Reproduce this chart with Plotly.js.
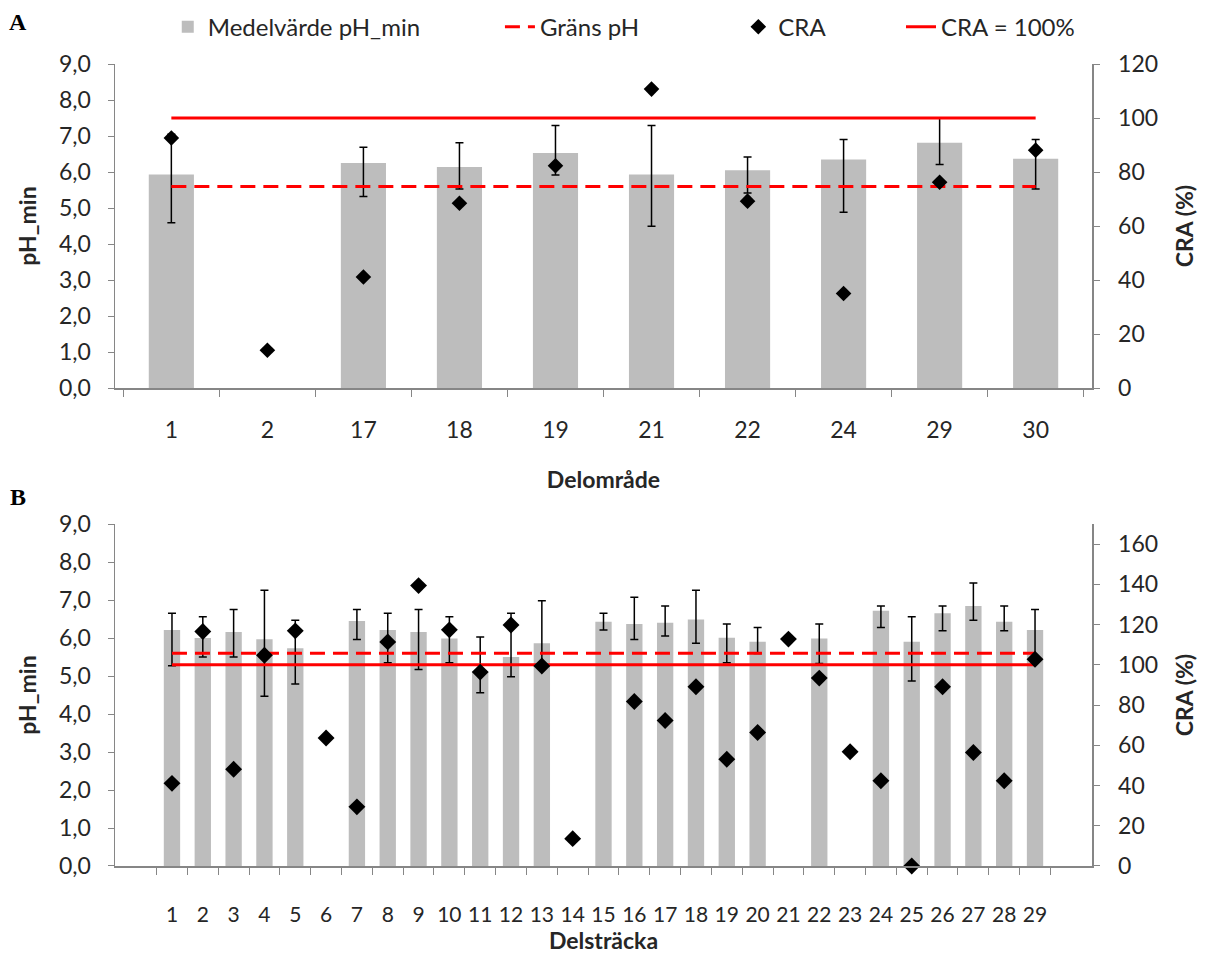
<!DOCTYPE html>
<html>
<head>
<meta charset="utf-8">
<script src="https://cdn.plot.ly/plotly-3.0.1.min.js"></script>
<style>
  html, body { margin: 0; padding: 0; background: #fff; }
  #chart { width: 1209px; height: 965px; }
</style>
</head>
<body>
<div id="chart"></div>
<script>
// ---- Panel A: per delområde ----
const topCats    = ['1', '2', '17', '18', '19', '21', '22', '24', '29', '30'];
const topPh      = [5.93, null, 6.25, 6.14, 6.53, 5.93, 6.05, 6.35, 6.81, 6.37];
const topPhHigh  = [7.05, null, 6.69, 6.81, 7.29, 7.29, 6.42, 6.90, 7.50, 6.90];
const topPhLow   = [4.59, null, 5.32, 5.53, 5.92, 4.49, 5.42, 4.88, 6.21, 5.53];
const topCra     = [92.6, 14.0, 41.1, 68.4, 82.3, 110.7, 69.2, 35.0, 76.2, 88.1];

// ---- Panel B: per delsträcka ----
const botCats    = ['1','2','3','4','5','6','7','8','9','10','11','12','13','14','15',
                    '16','17','18','19','20','21','22','23','24','25','26','27','28','29'];
const botPh      = [6.21, 6.00, 6.16, 5.97, 5.73, null, 6.45, 6.21, 6.16, 5.99, 5.11, 5.50, 5.86, null, 6.43,
                    6.37, 6.40, 6.49, 6.01, 5.90, null, 5.99, null, 6.72, 5.90, 6.65, 6.84, 6.43, 6.21];
const botPhHigh  = [6.65, 6.56, 6.75, 7.26, 6.47, null, 6.75, 6.65, 6.75, 6.56, 6.03, 6.65, 6.98, null, 6.65,
                    7.07, 6.84, 7.26, 6.37, 6.28, null, 6.37, null, 6.84, 6.56, 6.84, 7.45, 6.84, 6.75];
const botPhLow   = [5.27, 5.50, 5.50, 4.47, 4.79, null, 5.96, 5.35, 5.17, 5.35, 4.56, 4.98, 5.30, null, 6.21,
                    5.96, 6.05, 5.86, 5.35, 5.59, null, 5.33, null, 6.28, 4.87, 6.19, 6.47, 6.19, 5.50];
const botCra     = [41.1, 116.6, 48.1, 104.8, 116.9, 63.6, 29.4, 111.4, 139.4, 117.4, 96.4, 119.8, 99.4, 13.6, null,
                    81.8, 72.3, 89.1, 53.1, 66.4, 112.8, 93.4, 56.8, 42.4, 0, 89.1, 56.4, 42.4, 102.8];

// Reference levels
const GRANS_PH = 5.6;
const CRA_REF = 100;

const FONT = 'Lato, "Open Sans", sans-serif';
const TXT = '#262626';
const AXIS = '#868686';
const BAR = '#bdbdbd';
const RED = '#ff0000';

const plus  = (v, hi) => v.map((x, i) => (x == null ? null : hi[i] - x));
const minus = (v, lo) => v.map((x, i) => (x == null ? null : x - lo[i]));
const flat  = (cats, val) => cats.map(() => val);

function panelTraces(cats, ph, hi, lo, cra, xa, yl, yr, barWidth, mSize, legendOn) {
  return [
    {
      type: 'bar', name: 'Medelvärde pH_min', x: cats, y: ph,
      xaxis: xa, yaxis: yl, width: barWidth,
      marker: { color: BAR },
      error_y: { type: 'data', symmetric: false, array: plus(ph, hi), arrayminus: minus(ph, lo),
                 color: '#000', thickness: 1.5, width: 4 },
      showlegend: legendOn, legend: 'legend'
    },
    {
      type: 'scatter', mode: 'lines', name: 'Gräns pH', x: cats, y: flat(cats, GRANS_PH),
      xaxis: xa, yaxis: yl,
      line: { color: RED, width: 3, dash: '15px,8px' },
      showlegend: legendOn, legend: 'legend2', hoverinfo: 'skip'
    },
    {
      type: 'scatter', mode: 'lines', name: 'CRA = 100%', x: cats, y: flat(cats, CRA_REF),
      xaxis: xa, yaxis: yr,
      line: { color: RED, width: 3 },
      showlegend: legendOn, legend: 'legend4', hoverinfo: 'skip'
    },
    {
      type: 'scatter', mode: 'markers', name: 'CRA', x: cats, y: cra,
      xaxis: xa, yaxis: yr, cliponaxis: false,
      marker: { symbol: 'diamond', color: '#000', size: mSize },
      showlegend: legendOn, legend: 'legend3'
    }
  ];
}

const data = [
  ...panelTraces(topCats, topPh, topPhHigh, topPhLow, topCra, 'x', 'y', 'y2', 0.47, 12, true),
  ...panelTraces(botCats, botPh, botPhHigh, botPhLow, botCra, 'x2', 'y3', 'y4', 0.53, 13, false)
];

const tickFont = { family: FONT, size: 23, color: TXT };
const titleFont = { family: FONT, size: 23, color: TXT, weight: 'bold' };

const xBase = {
  type: 'category', showline: true, linecolor: AXIS, linewidth: 1.5,
  ticks: 'outside', tickson: 'boundaries', ticklen: 7, tickcolor: AXIS, tickangle: 0,
  showgrid: false, zeroline: false, tickfont: tickFont, fixedrange: true, automargin: false
};
const yLeft = {
  range: [0, 9], dtick: 1, tick0: 0, tickformat: '.1f',
  showline: true, linecolor: AXIS, linewidth: 1.5,
  ticks: 'outside', ticklen: 6, tickcolor: AXIS, ticklabelstandoff: 12,
  showgrid: false, zeroline: false, tickfont: tickFont, automargin: false,
  title: { text: 'pH_min', font: titleFont, standoff: 16 }
};
const yRight = {
  side: 'right', dtick: 20, tick0: 0,
  showline: true, linecolor: AXIS, linewidth: 1.5,
  ticks: 'outside', ticklen: 6, tickcolor: AXIS, ticklabelstandoff: 14,
  showgrid: false, zeroline: false, tickfont: tickFont, automargin: false,
  title: { text: 'CRA (%)', font: titleFont, standoff: 20 }
};

const legendCommon = {
  orientation: 'h', yanchor: 'middle', xanchor: 'left', y: 1.046,
  font: { family: FONT, size: 24, color: TXT }, bgcolor: 'rgba(0,0,0,0)', borderwidth: 0
};

const panelLabelFont = { family: '"Liberation Serif", "DejaVu Serif", serif', size: 24, color: '#000', weight: 'bold' };

const layout = {
  width: 1209, height: 965,
  margin: { l: 115, r: 117, t: 64, b: 99, autoexpand: false },
  paper_bgcolor: '#fff', plot_bgcolor: '#fff',
  separators: ',.',
  font: { family: FONT, color: TXT },
  xaxis:  Object.assign({}, xBase, { anchor: 'y', domain: [0, 1], ticklabelstandoff: 21,
           title: { text: 'Delområde', font: titleFont, standoff: 30 } }),
  xaxis2: Object.assign({}, xBase, { anchor: 'y3', domain: [0, 1], ticklabelstandoff: 29,
           tickfont: { family: FONT, size: 21, color: TXT },
           title: { text: 'Delsträcka', font: titleFont, standoff: 7 } }),
  yaxis:  Object.assign({}, yLeft, { anchor: 'x', domain: [0.596, 1] }),
  yaxis2: Object.assign({}, yRight, { anchor: 'x', overlaying: 'y', range: [0, 120] }),
  yaxis3: Object.assign({}, yLeft, { anchor: 'x2', domain: [0, 0.4264] }),
  yaxis4: Object.assign({}, yRight, { anchor: 'x2', overlaying: 'y3', range: [0, 170] }),
  legend:  Object.assign({}, legendCommon, { x: 0.054 }),
  legend2: Object.assign({}, legendCommon, { x: 0.394 }),
  legend3: Object.assign({}, legendCommon, { x: 0.638 }),
  legend4: Object.assign({}, legendCommon, { x: 0.8045 }),
  annotations: [
    { text: 'A', xref: 'paper', yref: 'paper', x: -0.099, y: 1.052, yanchor: 'middle', xanchor: 'center',
      showarrow: false, font: panelLabelFont },
    { text: 'B', xref: 'paper', yref: 'paper', x: -0.099, y: 0.46, yanchor: 'middle', xanchor: 'center',
      showarrow: false, font: panelLabelFont }
  ],
  showlegend: true
};

Plotly.newPlot('chart', data, layout, { displayModeBar: false, staticPlot: true });
</script>
</body>
</html>
